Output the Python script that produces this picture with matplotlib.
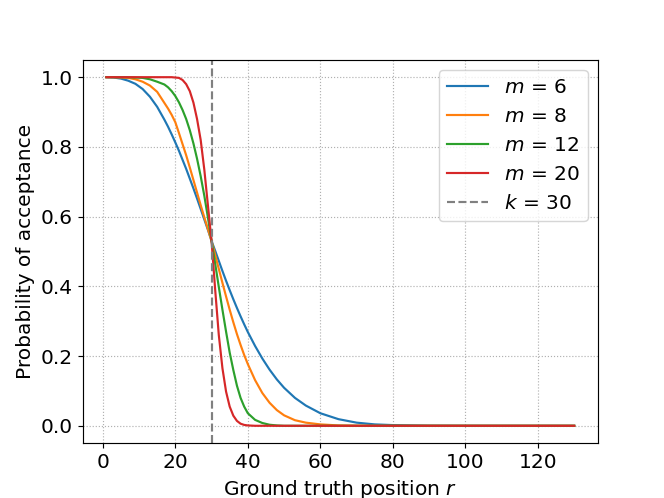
import matplotlib
matplotlib.use("Agg")
from matplotlib import pyplot as plt

plt.rcParams['font.size'] = 14

r = [1, 3, 5, 7, 9, 11, 13, 15, 17, 18, 19, 20, 21, 22, 23, 24, 25, 26, 27, 28, 29, 30,
     31, 32, 33, 34, 35, 36, 37, 38, 39, 40, 42, 44, 46, 48, 50, 53, 56, 60, 65, 70,
     75, 80, 90, 100, 110, 120, 130]

p_m6 = [1.000, 0.999, 0.996, 0.990, 0.981, 0.966, 0.944, 0.915, 0.878, 0.858, 0.836, 0.813,
        0.789, 0.763, 0.737, 0.709, 0.681, 0.652, 0.622, 0.592, 0.562, 0.530,
        0.502, 0.473, 0.444, 0.416, 0.389, 0.363, 0.338, 0.314, 0.291, 0.269,
        0.229, 0.193, 0.161, 0.133, 0.109, 0.080, 0.058, 0.036, 0.019, 0.009,
        0.004, 0.002, 0.0004, 0.0001, 0.0, 0.0, 0.0]

p_m8 = [1.000, 1.000, 0.999, 0.998, 0.994, 0.987, 0.976, 0.958, 0.926, 0.910, 0.892, 0.871,
        0.840, 0.808, 0.776, 0.741, 0.705, 0.669, 0.633, 0.598, 0.564, 0.530,
        0.490, 0.450, 0.410, 0.371, 0.333, 0.297, 0.263, 0.232, 0.203, 0.177,
        0.131, 0.094, 0.066, 0.045, 0.030, 0.016, 0.009, 0.004, 0.001, 0.0003,
        0.0, 0.0, 0.0, 0.0, 0.0, 0.0, 0.0]

p_m12 = [1.000, 1.000, 1.000, 1.000, 0.999, 0.998, 0.994, 0.987, 0.979, 0.971, 0.960, 0.946,
         0.928, 0.906, 0.880, 0.848, 0.810, 0.766, 0.716, 0.660, 0.597, 0.530,
         0.465, 0.398, 0.333, 0.270, 0.210, 0.160, 0.115, 0.080, 0.055, 0.036,
         0.017, 0.008, 0.003, 0.001, 0.0, 0.0, 0.0, 0.0, 0.0, 0.0,
         0.0, 0.0, 0.0, 0.0, 0.0, 0.0, 0.0]

p_m20 = [1.000, 1.000, 1.000, 1.000, 1.000, 1.000, 1.000, 1.000, 1.000, 1.000, 1.000, 0.999,
         0.998, 0.992, 0.980, 0.960, 0.927, 0.880, 0.820, 0.735, 0.632, 0.530,
         0.390, 0.260, 0.165, 0.098, 0.055, 0.029, 0.014, 0.006, 0.0025, 0.001,
         0.0, 0.0, 0.0, 0.0, 0.0, 0.0, 0.0, 0.0, 0.0, 0.0,
         0.0, 0.0, 0.0, 0.0, 0.0, 0.0, 0.0]

m_values = [6, 8, 12, 20]
curves = [p_m6, p_m8, p_m12, p_m20]
k = 30

fig, ax = plt.subplots(figsize=(6.4, 4.8), dpi=103.75)
for m, p in zip(m_values, curves):
    ax.plot(r, p, label=f"$m$ = {m}")
ax.axvline(k, color='gray', linestyle='--', label=f"$k$ = {k}")

ax.set_xlabel("Ground truth position $r$")
ax.set_ylabel("Probability of acceptance")
ax.grid(linestyle=':')
ax.legend(loc='upper right')

fig.savefig("out.png", dpi=103.75)
